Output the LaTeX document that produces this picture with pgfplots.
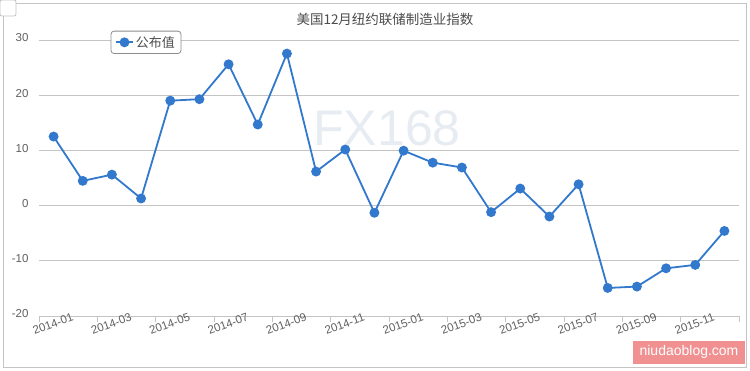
\documentclass[border=0pt]{standalone}
\usepackage{pgfplots}
\pgfplotsset{compat=1.18}
\usepackage{fontspec}
\setmainfont{Liberation Sans}
\newfontfamily\cjk{Noto Sans CJK SC}
\definecolor{lineblue}{HTML}{3278CD}
\definecolor{gridgray}{HTML}{C4C4C4}
\definecolor{ticktext}{HTML}{606060}
\definecolor{wmark}{HTML}{E6ECF1}
\definecolor{pinkbox}{HTML}{F09090}
\begin{document}
\begin{tikzpicture}
\begin{scope}[x=1pt,y=1pt,shift={(-39pt,-54pt)}]
\draw[draw=gridgray, fill=white, line width=0.8pt] (3,3) rectangle (746,367);
\draw[draw=gridgray, fill=white, rounded corners=2pt, line width=0.8pt] (0,354) rectangle (16,370);
\node[text=wmark, font=\fontsize{50}{50}\selectfont] at (387,242) {FX168};
\node[text=black!70, font=\cjk\fontsize{13.5}{15}\selectfont] at (385,351) {美国12月纽约联储制造业指数};
\end{scope}
\begin{axis}[
  scale only axis, width=700pt, height=276pt,
  xmin=0, xmax=24, ymin=-20, ymax=30,
  axis x line*=bottom, axis y line*=left,
  y axis line style={draw=none},
  x axis line style={draw=gridgray, line width=0.8pt},
  xtick={0,2,...,24},
  xticklabels={2014-01,2014-03,2014-05,2014-07,2014-09,2014-11,2015-01,2015-03,2015-05,2015-07,2015-09,2015-11,{}},
  xtick style={draw=gridgray, line width=0.8pt},
  tick align=outside, major tick length=6pt,
  ytick={-20,-10,0,10,20,30},
  yticklabels={-20,-10,0,10,20,30},
  ytick style={draw=none},
  ymajorgrids, grid style={draw=gridgray, line width=0.8pt},
  tick label style={text=ticktext, font=\fontsize{11.5}{13}\selectfont},
  xticklabel style={anchor=center, xshift=14pt, yshift=-2pt, rotate=20},
  yticklabel style={xshift=-1pt, yshift=2pt},
  legend style={at={(0.1024,1.0337)}, anchor=north west, draw=black!45, rounded corners=3pt,
    font=\cjk\fontsize{13}{15}\selectfont, text=black!70, line width=0.8pt, inner xsep=4pt, inner ysep=3pt},
]
\addplot[lineblue, line width=1.8pt, mark=*, mark size=4pt, mark options={fill=lineblue, draw=lineblue}] coordinates {
(0.5,12.51) (1.5,4.48) (2.5,5.61) (3.5,1.29) (4.5,19.01) (5.5,19.28)
(6.5,25.60) (7.5,14.69) (8.5,27.54) (9.5,6.17) (10.5,10.16) (11.5,-1.30)
(12.5,9.95) (13.5,7.78) (14.5,6.90) (15.5,-1.19) (16.5,3.09) (17.5,-1.98)
(18.5,3.86) (19.5,-14.92) (20.5,-14.67) (21.5,-11.36) (22.5,-10.74) (23.5,-4.59)
};
\legend{公布值}
\end{axis}
\begin{scope}[x=1pt,y=1pt,shift={(-39pt,-54pt)}]
\node[fill=pinkbox, text=white, inner sep=0pt, minimum width=112pt, minimum height=23pt, font=\fontsize{14}{16}\selectfont] at (689,18) {niudaoblog.com};
\pgfresetboundingbox
\path[use as bounding box] (0,0) rectangle (750,370);
\end{scope}
\end{tikzpicture}
\end{document}
